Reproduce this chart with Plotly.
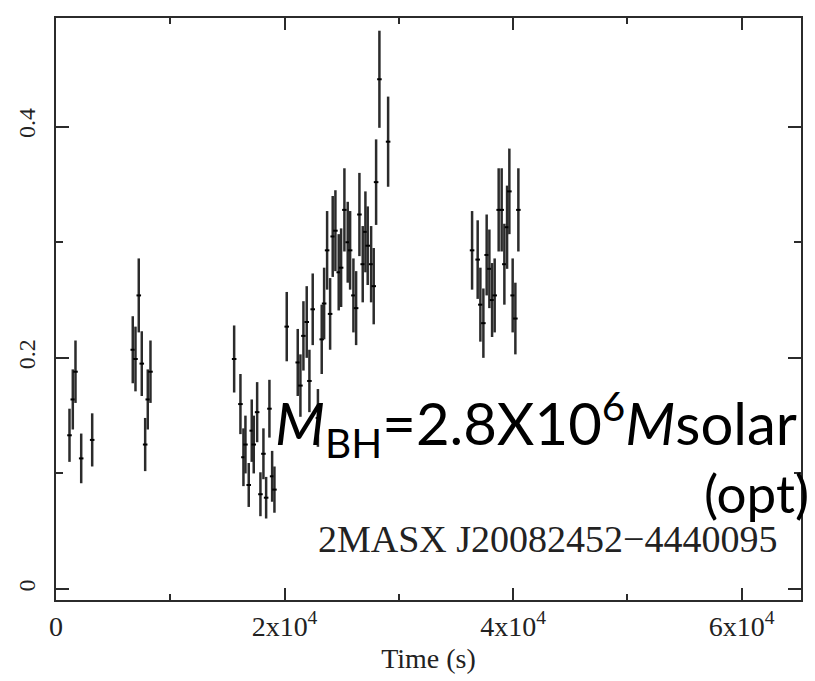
import plotly.graph_objects as go

# Time (s) of each bin
time_s = [1181, 1470, 1706, 2205, 3167,
          6719, 6956, 7244, 7507, 7804, 8032, 8268,
          15591, 16142, 16404, 16579, 16868, 17130, 17305, 17603, 17892, 18154, 18390, 18679, 18915, 19117,
          20193, 21155, 21391, 21654, 21942, 22178, 22467, 22922, 23255, 23465, 23727, 23990, 24217, 24453,
          24742, 24952, 25241, 25530, 25740, 26029, 26265, 26554, 26843, 27079, 27280, 27578, 27805, 28015,
          28304, 29066,
          36414, 36904, 37140, 37403, 37691, 37928, 38164, 38391, 38741, 39003, 39240, 39476, 39677, 39966,
          40203, 40465]
# count rate
rate = [0.133, 0.164, 0.188, 0.113, 0.129,
        0.207, 0.199, 0.254, 0.195, 0.125, 0.164, 0.188,
        0.199, 0.160, 0.114, 0.125, 0.090, 0.137, 0.125, 0.153, 0.082, 0.117, 0.079, 0.156, 0.0975, 0.086,
        0.227, 0.196, 0.176, 0.219, 0.231, 0.180, 0.242, 0.148, 0.216, 0.247, 0.293, 0.238, 0.305, 0.310,
        0.274, 0.278, 0.328, 0.300, 0.293, 0.254, 0.243, 0.324, 0.281, 0.309, 0.297, 0.281, 0.262, 0.352,
        0.441, 0.387,
        0.293, 0.285, 0.246, 0.230, 0.289, 0.277, 0.250, 0.254, 0.328, 0.328, 0.281, 0.313, 0.344, 0.254,
        0.234, 0.328]
# 1-sigma error on rate
rate_err = [0.023, 0.026, 0.027, 0.0215, 0.023,
            0.029, 0.028, 0.032, 0.028, 0.023, 0.026, 0.027,
            0.029, 0.026, 0.025, 0.025, 0.019, 0.027, 0.025, 0.026, 0.019, 0.022, 0.018, 0.025, 0.022, 0.020,
            0.030, 0.029, 0.027, 0.030, 0.031, 0.027, 0.031, 0.025, 0.030, 0.031, 0.034, 0.031, 0.035, 0.035,
            0.033, 0.034, 0.036, 0.035, 0.034, 0.032, 0.032, 0.036, 0.033, 0.035, 0.034, 0.033, 0.033, 0.037,
            0.042, 0.039,
            0.034, 0.034, 0.032, 0.030, 0.035, 0.034, 0.032, 0.032, 0.036, 0.036, 0.035, 0.036, 0.037, 0.032,
            0.031, 0.036]
half_bin = 200

x_tickvals = [0, 20000, 40000, 60000]
x_ticktext = ["0", "2x10<sup>4</sup>", "4x10<sup>4</sup>", "6x10<sup>4</sup>"]
y_tickvals = [0, 0.2, 0.4]
y_ticktext = ["0", "0.2", "0.4"]

ink = "#2b2b2b"

fig = go.Figure()
fig.add_trace(go.Scatter(
    x=time_s, y=rate, mode="markers",
    marker=dict(size=1, color=ink, opacity=0),
    error_y=dict(type="data", array=rate_err, visible=True, color=ink, thickness=2.5, width=0),
    error_x=dict(type="constant", value=half_bin, visible=True, color="black", thickness=2, width=0),
    showlegend=False,
))

serif = "Liberation Serif, Times New Roman, serif"
axis_common = dict(showgrid=False, zeroline=False, showline=True, linecolor=ink, linewidth=2,
                   mirror="allticks", ticks="inside", tickcolor=ink, tickwidth=2)

fig.update_layout(
    width=815, height=681,
    margin=dict(l=56, r=13, t=18, b=78),
    paper_bgcolor="white", plot_bgcolor="white",
    xaxis=dict(range=[0, 65200], tickvals=x_tickvals, ticktext=x_ticktext, ticklen=12,
               minor=dict(ticks="inside", dtick=10000, ticklen=6, tickcolor=ink, tickwidth=2),
               tickfont=dict(family=serif, size=28, color="#222"),
               title=dict(text="Time (s)", font=dict(family=serif, size=28, color="#222"), standoff=8),
               **axis_common),
    yaxis=dict(range=[-0.0095, 0.494], tickvals=y_tickvals, ticktext=y_ticktext, ticklen=13,
               tickangle=-90, ticklabelstandoff=9,
               minor=dict(ticks="inside", dtick=0.1, ticklen=7, tickcolor=ink, tickwidth=2),
               tickfont=dict(family=serif, size=24, color="#222"),
               **axis_common),
)

sans = "Lato, Open Sans, sans-serif"
fig.add_annotation(xref="paper", yref="paper", x=0.291, y=0.302, xanchor="left", yanchor="middle",
                   text="<i>M</i><sub>BH</sub>=2.8X10<sup>6</sup><i>M</i>solar", showarrow=False,
                   font=dict(family=sans, size=58, color="black"))
fig.add_annotation(xref="paper", yref="paper", x=1.013, y=0.184, xanchor="right", yanchor="middle",
                   text="(opt)", showarrow=False, font=dict(family=sans, size=53, color="black"))
fig.add_annotation(xref="paper", yref="paper", x=0.972, y=0.104, xanchor="right", yanchor="middle",
                   text="2MASX J20082452\u22124440095", showarrow=False,
                   font=dict(family=serif, size=38, color="#222"))

fig.write_html("out.html")
